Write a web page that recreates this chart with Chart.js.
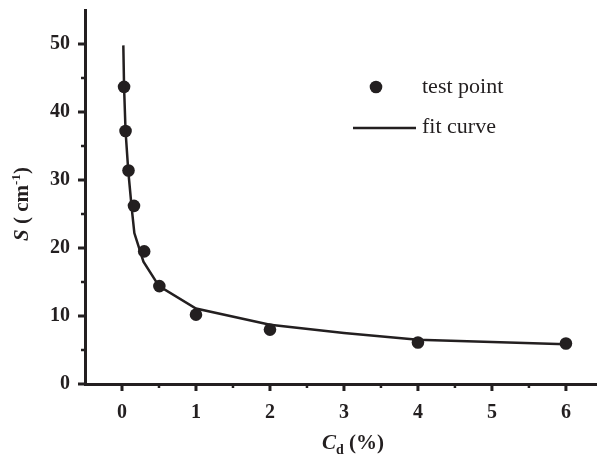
<!DOCTYPE html>
<html>
<head>
<meta charset="utf-8">
<script src="https://cdn.jsdelivr.net/npm/chart.js@4.4.1/dist/chart.umd.min.js"></script>
<style>
    html, body { margin: 0; padding: 0; background: #fff; }
    #wrap { position: relative; width: 597px; height: 458px; }
</style>
</head>
<body>
<div id="wrap"><canvas id="chart"></canvas></div>
<script>
// test points (Cd in %, S in cm-1)
var testCd = [0.028, 0.048, 0.088, 0.162, 0.30, 0.505, 1.0, 2.0, 4.0, 6.0];
var testS = [43.7, 37.2, 31.4, 26.2, 19.5, 14.4, 10.2, 8.0, 6.1, 5.95];

// fit curve
var fitCd = [0.018, 0.028, 0.048, 0.085, 0.13, 0.167, 0.29, 0.5, 1.0, 2.0, 3.0, 4.0, 6.0];
var fitS = [49.8, 43.7, 37.2, 31.3, 26.0, 22.2, 18.0, 14.4, 11.1, 8.7, 7.5, 6.5, 5.85];

// ticks: all marks, and the ones that carry a label
var xTickValues = [0, 0.5, 1, 1.5, 2, 2.5, 3, 3.5, 4, 4.5, 5, 5.5, 6];
var xTickLabels = [0, 1, 2, 3, 4, 5, 6];
var yTickValues = [0, 5, 10, 15, 20, 25, 30, 35, 40, 45, 50];
var yTickLabels = [0, 10, 20, 30, 40, 50];

var INK = '#231f20';
var SERIF = "'Liberation Serif', 'Times New Roman', serif";

function toPoints(xs, ys) {
    return xs.map(function (x, i) { return {x: x, y: ys[i]}; });
}

// short minor ticks, longer major ticks, pointing outward
var tickMarks = {
    id: 'tickMarks',
    afterDraw: function (chart) {
        var ctx = chart.ctx, area = chart.chartArea;
        var xs = chart.scales.x, ys = chart.scales.y;
        ctx.save();
        ctx.strokeStyle = INK;
        xs.ticks.forEach(function (t) {
            var major = xTickLabels.indexOf(t.value) >= 0;
            var px = xs.getPixelForValue(t.value);
            ctx.lineWidth = major ? 3 : 2.5;
            ctx.beginPath();
            ctx.moveTo(px, area.bottom);
            ctx.lineTo(px, area.bottom + (major ? 7 : 4));
            ctx.stroke();
        });
        ys.ticks.forEach(function (t) {
            var major = yTickLabels.indexOf(t.value) >= 0;
            var py = ys.getPixelForValue(t.value);
            ctx.lineWidth = major ? 3 : 2.5;
            ctx.beginPath();
            ctx.moveTo(area.left, py);
            ctx.lineTo(area.left - (major ? 7 : 4), py);
            ctx.stroke();
        });
        ctx.restore();
    }
};

// draws pieces of text with different fonts one after another
function drawParts(ctx, parts, cx, baseY) {
    var total = 0;
    parts.forEach(function (p) { ctx.font = p.font; total += ctx.measureText(p.text).width; });
    var x = cx - total / 2;
    parts.forEach(function (p) {
        ctx.font = p.font;
        ctx.fillText(p.text, x, baseY + (p.dy || 0));
        x += ctx.measureText(p.text).width;
    });
}

// axis titles with italic symbol and sub/superscripts
var axisTitles = {
    id: 'axisTitles',
    afterDraw: function (chart) {
        var ctx = chart.ctx;
        ctx.save();
        ctx.fillStyle = INK;
        ctx.textAlign = 'left';
        ctx.textBaseline = 'alphabetic';
        drawParts(ctx, [
            {text: 'C', font: 'italic bold 21px ' + SERIF},
            {text: 'd', font: 'bold 14px ' + SERIF, dy: 5},
            {text: ' (%)', font: 'bold 21px ' + SERIF}
        ], 353, 449);

        ctx.translate(28, 204);
        ctx.rotate(-Math.PI / 2);
        drawParts(ctx, [
            {text: 'S', font: 'italic bold 21px ' + SERIF},
            {text: ' ( cm', font: 'bold 21px ' + SERIF},
            {text: '-1', font: 'bold 13px ' + SERIF, dy: -8},
            {text: ')', font: 'bold 21px ' + SERIF}
        ], 0, 0);
        ctx.restore();
    }
};

// legend inside the plot, as in the figure
var plotLegend = {
    id: 'plotLegend',
    afterDraw: function (chart) {
        var ctx = chart.ctx, area = chart.chartArea;
        var pts = chart.data.datasets[1], fit = chart.data.datasets[0];
        var lx = area.left, ty = area.top;
        ctx.save();
        ctx.fillStyle = INK;
        ctx.strokeStyle = INK;
        ctx.beginPath();
        ctx.arc(lx + 291, ty + 77, pts.pointRadius, 0, Math.PI * 2);
        ctx.fill();
        ctx.lineWidth = fit.borderWidth;
        ctx.beginPath();
        ctx.moveTo(lx + 268, ty + 118);
        ctx.lineTo(lx + 331, ty + 118);
        ctx.stroke();
        ctx.font = '22px ' + SERIF;
        ctx.textBaseline = 'middle';
        ctx.textAlign = 'left';
        ctx.fillText(pts.label, lx + 337, ty + 77);
        ctx.fillText(fit.label, lx + 337, ty + 117);
        ctx.restore();
    }
};

var ctx = document.getElementById('chart');
var chart = new Chart(ctx, {
    type: 'scatter',
    data: {
        datasets: [{
            label: 'fit curve',
            data: toPoints(fitCd, fitS),
            showLine: true,
            borderColor: INK,
            borderWidth: 2.5,
            pointRadius: 0,
            tension: 0
        }, {
            label: 'test point',
            data: toPoints(testCd, testS),
            backgroundColor: INK,
            borderColor: INK,
            borderWidth: 0,
            pointRadius: 6.3
        }]
    },
    options: {
        responsive: true,
        maintainAspectRatio: false,
        animation: false,
        // the x axis runs right up to the edge in the original
        layout: { autoPadding: false, padding: { left: 0, right: 0, top: 10, bottom: 0 } },
        plugins: {
            legend: { display: false },
            tooltip: { enabled: false }
        },
        scales: {
            x: {
                type: 'linear',
                position: 'bottom',
                min: -0.5,
                max: 6.42,
                afterBuildTicks: function (scale) {
                    scale.ticks = xTickValues.map(function (v) { return {value: v}; });
                },
                afterFit: function (scale) {
                    scale.height = 74;
                    scale.paddingLeft = 0;
                    scale.paddingRight = 0;
                },
                ticks: {
                    autoSkip: false,
                    maxRotation: 0,
                    padding: 17,
                    color: INK,
                    font: { family: SERIF, size: 20, weight: 'bold' },
                    callback: function (v) { return xTickLabels.indexOf(v) >= 0 ? String(v) : ''; }
                },
                grid: { drawOnChartArea: false, drawTicks: false },
                border: { display: true, width: 3, color: INK }
            },
            y: {
                type: 'linear',
                min: 0,
                max: 55,
                afterBuildTicks: function (scale) {
                    scale.ticks = yTickValues.map(function (v) { return {value: v}; });
                },
                afterFit: function (scale) {
                    scale.width = 85;
                    scale.paddingTop = 0;
                    scale.paddingBottom = 0;
                },
                ticks: {
                    autoSkip: false,
                    padding: 15,
                    color: INK,
                    font: { family: SERIF, size: 20, weight: 'bold' },
                    callback: function (v) { return yTickLabels.indexOf(v) >= 0 ? String(v) : ''; }
                },
                grid: { drawOnChartArea: false, drawTicks: false },
                border: { display: true, width: 3, color: INK }
            }
        }
    },
    plugins: [tickMarks, axisTitles, plotLegend]
});
</script>
</body>
</html>
